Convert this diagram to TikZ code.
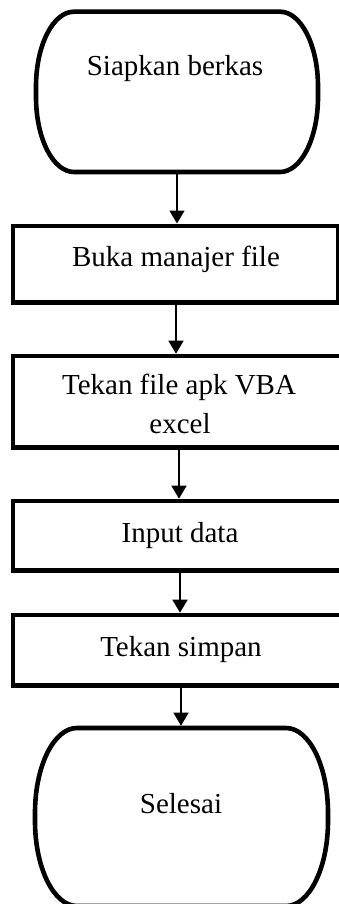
\documentclass[tikz,border=0pt]{standalone}
\usepackage{fontspec}
\setmainfont{Liberation Serif}
\usetikzlibrary{arrows.meta}

% Terminal outline with elliptical corners: #1 left, #2 right, #3 top, #4 bottom, #5 x radius, #6 y radius
\newcommand{\termpath}[6]{%
  \draw[termline] ({#1+#5},#3) -- ({#2-#5},#3)
    arc[start angle=90, end angle=0, x radius=#5 pt, y radius=#6 pt]
    -- (#2,{#4+#6})
    arc[start angle=0, end angle=-90, x radius=#5 pt, y radius=#6 pt]
    -- ({#1+#5},#4)
    arc[start angle=-90, end angle=-180, x radius=#5 pt, y radius=#6 pt]
    -- (#1,{#3-#6})
    arc[start angle=180, end angle=90, x radius=#5 pt, y radius=#6 pt]
    -- cycle;}

\begin{document}
\begin{tikzpicture}[x=1pt, y=1pt,
  termline/.style={line width=4.6pt, line join=round},
  termnode/.style={rectangle, inner sep=0pt, outer sep=2.3pt},
  procbox/.style={draw, line width=4.6pt, rectangle, inner sep=0pt, outer sep=2.3pt},
  label text/.style={font=\fontsize{29}{35}\selectfont, anchor=base, inner sep=0pt},
  flow/.style={line width=1.5pt, -{Triangle[width=15pt, length=13pt]}}]

\useasboundingbox (0,0) rectangle (339,-904);
\begin{scope}
\clip (0,0) rectangle (339,-904);

% start terminal
\termpath{36}{318}{-11.7}{-172}{38}{75}
\node[termnode, minimum width=282pt, minimum height=160.3pt] (start) at (177,-91.85) {};
\node[label text] (starttext) at (175,-76) {Siapkan berkas};

% process steps
\node[procbox, minimum width=325.5pt, minimum height=76.7pt] (open) at (175.75,-264.15) {};
\node[label text] (opentext) at (176,-266) {Buka manajer file};

\node[procbox, minimum width=329.5pt, minimum height=91.5pt] (vba) at (177.75,-401.75) {};
\node[label text] (vbatext1) at (179,-394) {Tekan file apk VBA};
\node[label text] (vbatext2) at (180,-433) {excel};

\node[procbox, minimum width=329.5pt, minimum height=69.5pt] (input) at (177.75,-535.75) {};
\node[label text] (inputtext) at (180,-542) {Input data};

\node[procbox, minimum width=329.5pt, minimum height=70.5pt] (save) at (177.75,-650.25) {};
\node[label text] (savetext) at (181,-656) {Tekan simpan};

% end terminal
\termpath{35}{328}{-728}{-906}{42}{85}
\node[termnode, minimum width=293pt, minimum height=178pt] (finish) at (181.5,-817) {};
\node[label text] (finishtext) at (181,-813) {Selesai};
\end{scope}

% connectors
\draw[flow] (start.south) -- (start.south |- open.north);
\draw[flow] ([xshift=0.25pt]open.south) -- ([xshift=0.25pt]open.south |- vba.north);
\draw[flow] ([xshift=1.25pt]vba.south) -- ([xshift=1.25pt]vba.south |- input.north);
\draw[flow] ([xshift=2.25pt]input.south) -- ([xshift=2.25pt]input.south |- save.north);
\draw[flow] ([xshift=3.25pt]save.south) -- ([xshift=3.25pt]save.south |- finish.north);
\end{tikzpicture}
\end{document}
